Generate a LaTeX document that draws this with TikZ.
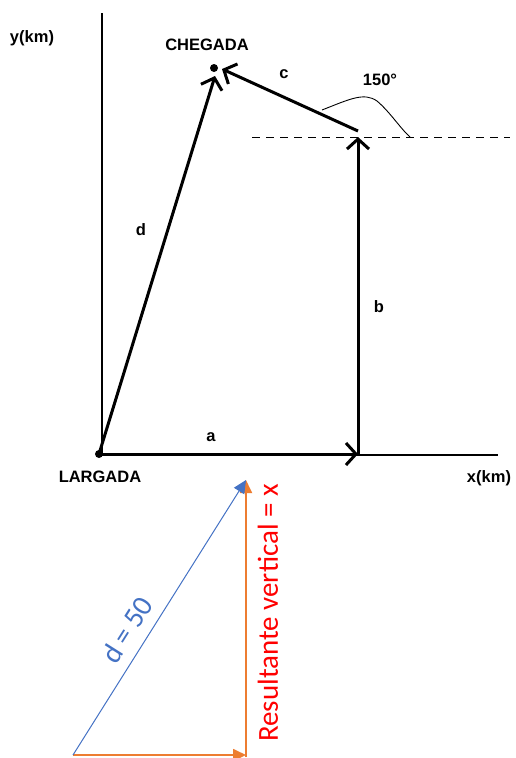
\documentclass[tikz,border=0pt]{standalone}
\usepackage{fontspec}
\setmainfont{Liberation Sans}
\newfontfamily\calib{Carlito}
\usetikzlibrary{arrows.meta}
\definecolor{offblue}{HTML}{4472C4}
\definecolor{offorange}{HTML}{ED7D31}
\definecolor{offred}{HTML}{FF0000}
\begin{document}
\begin{tikzpicture}[x=1pt,y=-1pt,
  axisline/.style={line width=1.2pt},
  vec/.style={line width=3pt,-{Straight Barb[length=10pt,width=22pt]}},
  lbl/.style={font=\fontsize{16.5}{18}\selectfont\bfseries, inner sep=0pt},
  dotnode/.style={circle, fill=black, inner sep=0pt, minimum size=8pt},
  office/.style={-{Triangle[length=13pt,width=12pt]}}]
\useasboundingbox (0,0) rectangle (516,758);
% axes
\coordinate (O) at (102,455);
\coordinate (ytop) at (102,13);
\coordinate (xend) at (498,455);
\draw[axisline] (O) -- (ytop);
\draw[axisline] (O) -- (xend);
\node[lbl] (ylab) at (32,38) {y(km)};
\node[lbl] (xlab) at (489,478) {x(km)};
% points
\node[dotnode] (start) at (99,454) {};
\node[dotnode] (finish) at (214,68) {};
\node[lbl] (largada) at (100,477) {LARGADA};
\node[lbl] (chegada) at (207,45) {CHEGADA};
\coordinate (A) at (358,454);
\coordinate (B) at (358,137);
\coordinate (Bs) at (358,131);
\coordinate (Ce) at (222,69);
\coordinate (De) at (215,76);
% dashed reference
\coordinate (dL) at (252,137);
\coordinate (dR) at (510,137);
\draw[line width=1pt, dash pattern=on 8pt off 6pt] (dL) -- (dR);
% vectors
\draw[vec] (start.center) -- (A);
\draw[vec] (A) -- (B);
\draw[vec] (Bs) -- (Ce);
\draw[vec] (start.center) -- (De);
% angle mark
\coordinate (arcA) at (322,110);
\coordinate (arcB) at (410,137);
\draw[line width=0.9pt] (arcA) .. controls (350,99) and (364,92) .. (377,101) .. controls (390,112) and (400,128) .. (arcB);
% labels
\node[lbl] (la) at (211,437) {a};
\node[lbl] (lb) at (379,307) {b};
\node[lbl] (lc) at (284,74) {c};
\node[lbl] (ld) at (141,230) {d};
\node[lbl] (lang) at (380,80) {150°};
% lower triangle
\coordinate (P) at (73,755);
\coordinate (Q) at (246,755);
\coordinate (R) at (246,480);
\coordinate (Qb) at (246,757);
\draw[offorange, line width=1.8pt, office] (P) -- (Q);
\draw[offorange, line width=1.8pt, office] (Qb) -- (R);
\draw[offblue, line width=1pt, office] (P) -- (R);
\node[offred, rotate=90, font=\calib\fontsize{29}{32}\selectfont, inner sep=0pt] (resv) at (268,613) {Resultante vertical = x};
\node[offblue, rotate=57.7, font=\calib\fontsize{29}{32}\selectfont, inner sep=0pt] (d50) at (127,630) {d = 50};
\end{tikzpicture}
\end{document}
